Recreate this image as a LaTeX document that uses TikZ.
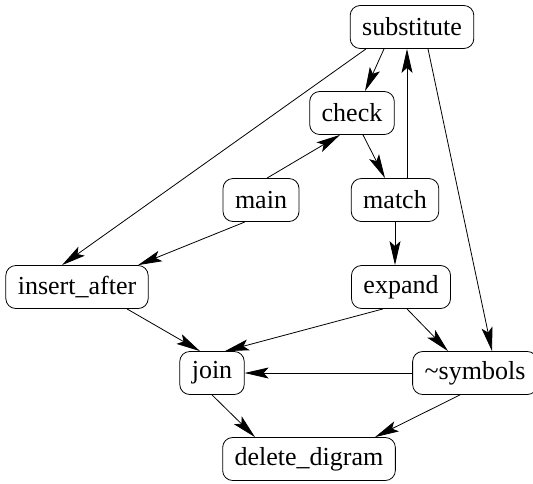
\documentclass[tikz,border=0pt]{standalone}
\usepackage{fontspec}
\setmainfont{Liberation Serif}
\usetikzlibrary{arrows.meta}

\begin{document}
\begin{tikzpicture}[x=1pt, y=1pt]
			\tikzset{noeud/.style={rectangle, rounded corners=5pt, draw=black, inner xsep=6pt, inner ysep=0pt, minimum height=21.5pt, font=\fontsize{13}{15}\selectfont}, fleche/.style={>={Stealth[length=12pt, width=5.5pt, inset=2.5pt]}, ->}};

			\useasboundingbox (0,0) rectangle (266.5,-241.5);

			\node[noeud] (subst)  at (  206,   -13.5) {substitute};
			\node[noeud] (check)  at (  176,   -56.5) {check};
			\node[noeud] (main)   at (130.5,    -100) {main};
			\node[noeud] (match)  at (197.5,    -100) {match};
			\node[noeud] (insert) at ( 38.5,  -143.5) {insert\_after};
			\node[noeud] (expand) at (200.5,  -143.5) {expand};
			\node[noeud] (join)   at (  106,  -186.5) {join};
			\node[noeud] (symb)   at (237.5,  -186.5) {\textasciitilde symbols};
			\node[noeud] (delete) at (154.5,  -229.5) {delete\_digram};

			\draw[fleche] ([xshift=-14pt]subst.south) to ([xshift=6.5pt]check.north);
			\draw[fleche] ([xshift=-23pt]subst.south) to ([xshift=-7.5pt]insert.north);
			\draw[fleche] ([xshift=8pt]subst.south) to ([xshift=8.5pt]symb.north);
			\draw[fleche] ([xshift=6pt]match.north) to ([xshift=6pt]match.north |- subst.south);
			\draw[fleche] ([xshift=3pt]main.north) to ([xshift=-6pt]check.south);
			\draw[fleche] ([xshift=-8pt]main.south) to ([xshift=30.5pt]insert.north);
			\draw[fleche] ([xshift=5.5pt]check.south) to ([xshift=-5pt]match.north);
			\draw[fleche] (match) to (match.south |- expand.north);
			\draw[fleche] ([xshift=25pt]insert.south) to ([xshift=-6pt]join.north);
			\draw[fleche] ([xshift=-9pt]expand.south) to ([xshift=6.5pt]join.north);
			\draw[fleche] ([xshift=3pt]expand.south) to ([xshift=-13.5pt]symb.north);
			\draw[fleche] (symb) to (join);
			\draw[fleche] (join.south) to ([xshift=-27pt]delete.north);
			\draw[fleche] ([xshift=-7.5pt]symb.south) to ([xshift=33pt]delete.north);

		\end{tikzpicture}
\end{document}
